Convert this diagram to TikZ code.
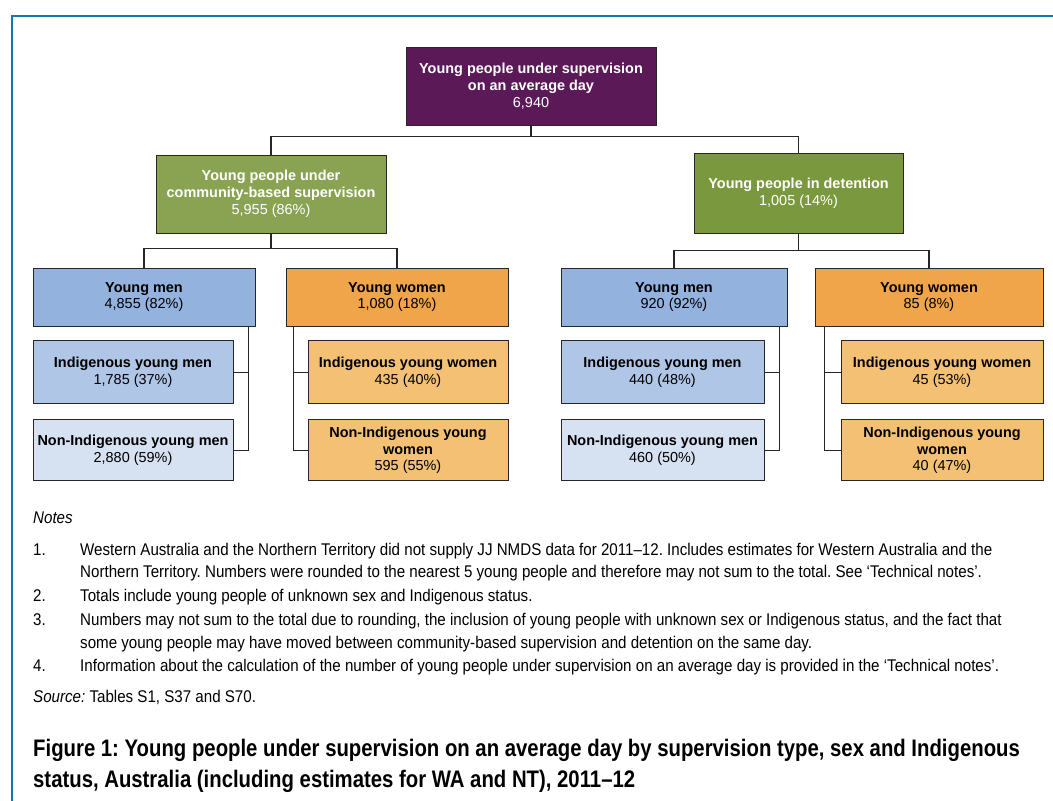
\documentclass[tikz,border=0pt]{standalone}
\usepackage{fontspec}
\setmainfont{Liberation Sans}
\newfontfamily\notefont[FakeStretch=0.893,Ligatures=TeX]{Liberation Sans}
\newfontfamily\capfont[FakeStretch=0.85,Ligatures=TeX]{Liberation Sans}
\usetikzlibrary{positioning}
\definecolor{frameblue}{HTML}{0F78B2}
\definecolor{allpurple}{HTML}{5B1957}
\definecolor{commgreen}{HTML}{89A352}
\definecolor{detgreen}{HTML}{7A993E}
\definecolor{menblue}{HTML}{93B2DD}
\definecolor{indmen}{HTML}{B0C6E6}
\definecolor{nonmen}{HTML}{D6E1F1}
\definecolor{womenor}{HTML}{F0A54A}
\definecolor{indwomen}{HTML}{F4C174}
\begin{document}
\frenchspacing
\begin{tikzpicture}[x=1bp,y=-1bp,
  box/.style={draw=black!85,line width=0.9bp,align=center,inner sep=2bp,font=\fontsize{14.5}{17}\selectfont},
  topbox/.style={box,text=white},
  sexbox/.style={box,minimum width=222bp,minimum height=58bp},
  subbox/.style={box,minimum width=200bp,minimum height=63bp},
  link/.style={draw=black!85,line width=1.1bp},
  note/.style={anchor=base west,inner sep=0,font=\notefont\fontsize{17}{21}\selectfont},
  figcap/.style={anchor=base west,inner sep=0,font=\capfont\bfseries\fontsize{24}{30}\selectfont}]
\useasboundingbox (0,0) rectangle (1053,801);
\draw[frameblue,line width=2.5bp] (12,801) -- (12,16) -- (1053,16);
\node[topbox,fill=allpurple,minimum width=250bp,minimum height=78bp] (all) at (531,86) {\textbf{Young people under supervision}\\\textbf{on an average day}\\6,940};
\node[topbox,fill=commgreen,minimum width=230bp,minimum height=78bp] (cs) at (271,194) {\textbf{Young people under}\\\textbf{community-based supervision}\\5,955 (86\%)};
\node[topbox,fill=detgreen,minimum width=209bp,minimum height=80bp] (dt) at (798.5,193) {\textbf{Young people in detention}\\1,005 (14\%)};
\node[sexbox,fill=menblue] (csm) at (144,297) {\textbf{Young men}\\4,855 (82\%)};
\node[sexbox,fill=womenor] (csw) at (397,297) {\textbf{Young women}\\1,080 (18\%)};
\node[sexbox,fill=menblue,minimum width=226bp] (dtm) at (674,297) {\textbf{Young men}\\920 (92\%)};
\node[sexbox,fill=womenor,minimum width=228bp] (dtw) at (929,297) {\textbf{Young women}\\85 (8\%)};
\node[subbox,fill=indmen,below=14bp of csm.south west,anchor=north west] (csmi) {\textbf{Indigenous young men}\\1,785 (37\%)};
\node[subbox,fill=nonmen,minimum height=61bp,below=15bp of csmi.south west,anchor=north west] (csmn) {\textbf{Non-Indigenous young men}\\2,880 (59\%)};
\node[subbox,fill=indwomen,below=14bp of csw.south east,anchor=north east] (cswi) {\textbf{Indigenous young women}\\435 (40\%)};
\node[subbox,fill=indwomen,minimum height=61bp,below=15bp of cswi.south east,anchor=north east] (cswn) {\textbf{Non-Indigenous young}\\\textbf{women}\\595 (55\%)};
\node[subbox,fill=indmen,minimum width=203bp,below=14bp of dtm.south west,anchor=north west] (dtmi) {\textbf{Indigenous young men}\\440 (48\%)};
\node[subbox,fill=nonmen,minimum width=203bp,minimum height=61bp,below=15bp of dtmi.south west,anchor=north west] (dtmn) {\textbf{Non-Indigenous young men}\\460 (50\%)};
\node[subbox,fill=indwomen,minimum width=202bp,below=14bp of dtw.south east,anchor=north east] (dtwi) {\textbf{Indigenous young women}\\45 (53\%)};
\node[subbox,fill=indwomen,minimum width=202bp,minimum height=61bp,below=15bp of dtwi.south east,anchor=north east] (dtwn) {\textbf{Non-Indigenous young}\\\textbf{women}\\40 (47\%)};
\draw[link] (all.south) -- ++(0,11) -| (cs.north);
\draw[link] (all.south) -- ++(0,11) -| (dt.north);
\draw[link] (cs.south) -- ++(0,15) -| (csm.north);
\draw[link] (cs.south) -- ++(0,15) -| (csw.north);
\draw[link] (dt.south) -- ++(0,17) -| (dtm.north);
\draw[link] (dt.south) -- ++(0,17) -| (dtw.north);
\draw[link] (csm.south east) ++(-7,0) |- (csmi.east);
\draw[link] (csm.south east) ++(-7,0) |- (csmn.east);
\draw[link] (csw.south west) ++(8,0) |- (cswi.west);
\draw[link] (csw.south west) ++(8,0) |- (cswn.west);
\draw[link] (dtm.south east) ++(-8,0) |- (dtmi.east);
\draw[link] (dtm.south east) ++(-8,0) |- (dtmn.east);
\draw[link] (dtw.south west) ++(10,0) |- (dtwi.west);
\draw[link] (dtw.south west) ++(10,0) |- (dtwn.west);
\node[note] (nh) at (33,523) {\itshape Notes};
\node[note] (k1) at (33,555) {1.};
\node[note] (n1a) at (80,555) {Western Australia and the Northern Territory did not supply JJ NMDS data for 2011–12. Includes estimates for Western Australia and the};
\node[note] (n1b) at (80,577) {Northern Territory. Numbers were rounded to the nearest 5 young people and therefore may not sum to the total. See ‘Technical notes’.};
\node[note] (k2) at (33,601) {2.};
\node[note] (n2) at (80,601) {Totals include young people of unknown sex and Indigenous status.};
\node[note] (k3) at (33,625) {3.};
\node[note] (n3a) at (80,625) {Numbers may not sum to the total due to rounding, the inclusion of young people with unknown sex or Indigenous status, and the fact that};
\node[note] (n3b) at (80,648) {some young people may have moved between community-based supervision and detention on the same day.};
\node[note] (k4) at (33,671) {4.};
\node[note] (n4) at (80,671) {Information about the calculation of the number of young people under supervision on an average day is provided in the ‘Technical notes’.};
\node[note] (src) at (33,702) {\textit{Source:} Tables S1, S37 and S70.};
\node[figcap] (cap1) at (33,756) {Figure 1: Young people under supervision on an average day by supervision type, sex and Indigenous};
\node[figcap] (cap2) at (33,787) {status, Australia (including estimates for WA and NT), 2011–12};
\end{tikzpicture}
\end{document}
